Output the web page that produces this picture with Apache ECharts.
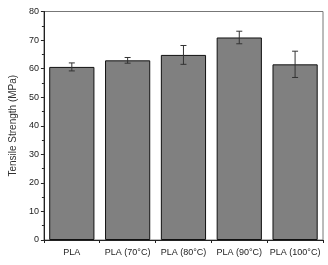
<!DOCTYPE html>
<html lang="en">
<head>
    <meta charset="UTF-8">
    <title>Tensile Strength</title>
    <script src="https://cdn.jsdelivr.net/npm/echarts@6/dist/echarts.min.js"></script>
    <style>body{margin:0;background:#fff;}</style>
</head>
<body>
<div id="bar" style="width: 328px;height: 265px;"></div>
<script>
    var categories = ['PLA', 'PLA (70°C)', 'PLA (80°C)', 'PLA (90°C)', 'PLA (100°C)'];
    var strength = [60.6, 62.9, 64.8, 70.9, 61.5];
    var errors = [1.4, 1.0, 3.3, 2.2, 4.6];
    var yTicks = [0, 10, 20, 30, 40, 50, 60, 70, 80];

    var errData = strength.map(function (v, i) {
        return [i, v - errors[i], v + errors[i]];
    });

    var myChart = echarts.init(document.getElementById('bar'));
    var option = {
        backgroundColor: '#fff',
        animation: false,
        grid: {
            left: 34, right: 5, top: 11.5, bottom: 25,
            show: true,
            borderColor: '#777',
            borderWidth: 1
        },
        xAxis: {
            type: 'category',
            data: categories,
            axisLine: {lineStyle: {color: '#222', width: 1}},
            axisTick: {show: true, length: 3, lineStyle: {color: '#222'}},
            axisLabel: {color: '#222', fontSize: 9, fontFamily: 'Liberation Sans', margin: 8, interval: 0}
        },
        yAxis: {
            type: 'value',
            min: yTicks[0],
            max: yTicks[yTicks.length - 1],
            interval: 10,
            name: 'Tensile Strength (MPa)',
            nameLocation: 'middle',
            nameGap: 21,
            nameTextStyle: {color: '#333', fontSize: 10, fontFamily: 'Liberation Sans'},
            axisLine: {show: true, lineStyle: {color: '#222', width: 1}},
            axisTick: {show: true, length: 3, lineStyle: {color: '#222'}},
            minorTick: {show: true, splitNumber: 2, length: 2, lineStyle: {color: '#222'}},
            splitLine: {show: false},
            axisLabel: {color: '#222', fontSize: 9, fontFamily: 'Liberation Sans', margin: 5}
        },
        series: [{
            type: 'bar',
            data: strength,
            barCategoryGap: '19%',
            itemStyle: {color: '#808080', borderColor: '#111', borderWidth: 1}
        }, {
            type: 'custom',
            data: errData,
            z: 5,
            renderItem: function (params, api) {
                var x = api.value(0);
                var lo = api.coord([x, api.value(1)]);
                var hi = api.coord([x, api.value(2)]);
                var cap = 3;
                var style = {stroke: '#333', lineWidth: 1};
                return {
                    type: 'group',
                    children: [
                        {type: 'line', shape: {x1: lo[0], y1: lo[1], x2: hi[0], y2: hi[1]}, style: style},
                        {type: 'line', shape: {x1: lo[0] - cap, y1: lo[1], x2: lo[0] + cap, y2: lo[1]}, style: style},
                        {type: 'line', shape: {x1: hi[0] - cap, y1: hi[1], x2: hi[0] + cap, y2: hi[1]}, style: style}
                    ]
                };
            }
        }]
    };
    myChart.setOption(option);
</script>
</body>
</html>
